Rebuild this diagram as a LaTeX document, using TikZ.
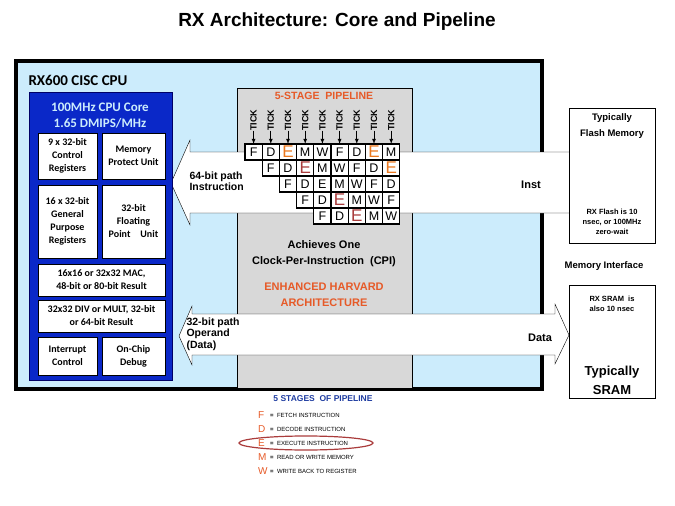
\documentclass[tikz,border=0pt]{standalone}
\usepackage{fontspec}
\setmainfont{Liberation Sans}
\newfontfamily\carl{Carlito}
\definecolor{cpublue}{RGB}{204,236,252}
\definecolor{coreblue}{RGB}{10,40,200}
\definecolor{pipegray}{RGB}{216,216,216}
\definecolor{hot}{RGB}{230,90,40}
\definecolor{ored}{RGB}{235,120,30}
\definecolor{legblue}{RGB}{30,60,160}
\definecolor{ellred}{RGB}{170,60,60}
\tikzset{
  unit/.style={draw=black,fill=white,inner sep=1pt,font=\carl\bfseries\fontsize{10}{13}\selectfont,align=center},
  cell/.style={draw=black,line width=1.2pt,fill=white,minimum width=17.2pt,minimum height=16pt,inner sep=0pt,font=\fontsize{12.5}{12}\selectfont},
  bigE/.style={font=\fontsize{17}{16}\selectfont},
  tick/.style={rotate=90,font=\bfseries\fontsize{9}{9}\selectfont,inner sep=0pt},
  lbl/.style={font=\bfseries\fontsize{10.5}{11}\selectfont,align=center},
  leg/.style={font=\fontsize{6}{7}\selectfont,anchor=west,inner sep=0pt}
}
\begin{document}
\begin{tikzpicture}[x=1pt,y=-1pt]
  \useasboundingbox (0,0) rectangle (675,506);
  \node[font=\bfseries\fontsize{19}{20}\selectfont] (title) at (337,22) {RX Architecture: Core and Pipeline};
  %cpu
  \draw[line width=3.5pt,fill=cpublue] (16,61) rectangle (542,389);
  \node[anchor=west,font=\carl\bfseries\fontsize{15}{16}\selectfont] (cpu) at (25,80) {RX600 CISC CPU};
  %pipeline box
  \draw[fill=pipegray,line width=1pt] (237,88) rectangle (412,388);
  %inst arrow
  \draw[fill=white] (569,152) -- (190,152) -- (190,140) -- (171,183) -- (190,225) -- (190,213) -- (569,213);
  %data arrow
  \draw[fill=white] (192,314) -- (555,314) -- (555,304) -- (569,335) -- (555,364) -- (555,355) -- (192,355) -- (192,365) -- (179,336) -- (192,306) -- cycle;
  %core
  \draw[fill=coreblue,draw=blue!40!black,line width=1pt] (29,92) rectangle (172,380);
  \node[text=cpublue,font=\carl\bfseries\fontsize{13}{16}\selectfont,align=center] (core) at (100,116) {100MHz CPU Core\\1.65 DMIPS/MHz};
  \node[unit,minimum width=59pt,minimum height=46pt] (ctrl) at (67.5,156) {9 x 32-bit\\Control\\Registers};
  \node[unit,minimum width=63pt,minimum height=46pt] (mpu) at (133.5,156) {Memory\\Protect Unit};
  \node[unit,minimum width=59pt,minimum height=73pt] (gpr) at (67.5,221.5) {16 x 32-bit\\General\\Purpose\\Registers};
  \node[unit,minimum width=63pt,minimum height=73pt] (fpu) at (133.5,221.5) {32-bit\\Floating\\Point\quad Unit};
  \node[unit,minimum width=127pt,minimum height=32pt] (mac) at (101.5,280) {16x16 or 32x32 MAC,\\48-bit or 80-bit Result};
  \node[unit,minimum width=127pt,minimum height=32pt] (div) at (101.5,316) {32x32 DIV or MULT, 32-bit\\or 64-bit Result};
  \node[unit,minimum width=59pt,minimum height=38pt] (irq) at (67.5,356) {Interrupt\\Control};
  \node[unit,minimum width=63pt,minimum height=38pt] (dbg) at (133.5,356) {On-Chip\\Debug};
  %pipeline
  \node[text=hot,font=\bfseries\fontsize{10.5}{11}\selectfont] (pipe) at (324,96) {5-STAGE\ \ PIPELINE};
  \foreach \c in {0,...,8}{
    \node[tick] (t\c) at (253.6+17.2*\c,120) {TICK};
    \draw[-latex,thick] (t\c.west) -- (253.6+17.2*\c,144);
  }
  \foreach \c/\t/\k/\s in {0/F/black/cell,1/D/black/cell,2/E/ored/bigE,3/M/black/cell,4/W/black/cell,5/F/black/cell,6/D/black/cell,7/E/ored/bigE,8/M/black/cell}
    \node[cell,\s,text=\k] (r1\c) at (253.6+17.2*\c,152) {\t};
  \foreach \c/\t/\k/\s in {1/F/black/cell,2/D/black/cell,3/E/ellred/bigE,4/M/black/cell,5/W/black/cell,6/F/black/cell,7/D/black/cell,8/E/ored/bigE}
    \node[cell,\s,text=\k] (r2\c) at (253.6+17.2*\c,168) {\t};
  \foreach \c/\t in {2/F,3/D,4/E,5/M,6/W,7/F,8/D}
    \node[cell] (r3\c) at (253.6+17.2*\c,184) {\t};
  \foreach \c/\t/\k/\s in {3/F/black/cell,4/D/black/cell,5/E/ellred/bigE,6/M/black/cell,7/W/black/cell,8/F/black/cell}
    \node[cell,\s,text=\k] (r4\c) at (253.6+17.2*\c,200) {\t};
  \foreach \c/\t/\k/\s in {4/F/black/cell,5/D/black/cell,6/E/ellred/bigE,7/M/black/cell,8/W/black/cell}
    \node[cell,\s,text=\k] (r5\c) at (253.6+17.2*\c,216) {\t};
  \node[font=\bfseries\fontsize{11}{16}\selectfont,align=center] (cpi) at (324,254) {Achieves One\\Clock-Per-Instruction\ \ (CPI)};
  \node[text=hot,font=\bfseries\fontsize{11}{16}\selectfont,align=center] (harv) at (324,295) {ENHANCED HARVARD\\ARCHITECTURE};
  %arrow texts
  \node[lbl,anchor=west,align=left] (ipath) at (186,181) {64-bit path\\Instruction};
  \node[lbl,font=\bfseries\fontsize{11}{11}\selectfont] (inst) at (531,185) {Inst};
  \node[lbl,anchor=west,align=left,font=\bfseries\fontsize{10.5}{11.5}\selectfont] (dpath) at (183,334) {32-bit path\\Operand\\(Data)};
  \node[lbl,font=\bfseries\fontsize{11}{11}\selectfont] (data) at (540,338) {Data};
  %memories
  \draw[fill=white,line width=0.8pt] (569,108) rectangle (655,243);
  \node[lbl,font=\bfseries\fontsize{9.5}{16}\selectfont] (flash) at (612,126) {Typically\\Flash Memory};
  \node[lbl,font=\bfseries\fontsize{7.5}{10}\selectfont] (fnote) at (612,222) {RX Flash is 10\\nsec, or 100MHz\\zero-wait};
  \node[lbl,font=\bfseries\fontsize{9.5}{10}\selectfont] (mif) at (604,266) {Memory Interface};
  \draw[fill=white,line width=0.8pt] (569,285) rectangle (655,398);
  \node[lbl,font=\bfseries\fontsize{7.5}{10}\selectfont] (snote) at (612,304) {RX SRAM\ \ is\\also 10 nsec};
  \node[lbl,font=\bfseries\fontsize{13}{19}\selectfont] (sram) at (612,380) {Typically\\SRAM};
  %legend
  \node[text=legblue,font=\bfseries\fontsize{8.5}{9}\selectfont] (legt) at (323,399) {5 STAGES\ \ OF PIPELINE};
  \foreach \t/\s/\y in {F/FETCH INSTRUCTION/415,D/DECODE INSTRUCTION/429,E/EXECUTE INSTRUCTION/443,M/READ OR WRITE MEMORY/457,W/WRITE BACK TO REGISTER/471}{
    \node[text=hot,anchor=west,inner sep=0pt,font=\fontsize{10}{10}\selectfont] (l\t) at (258,\y) {\t};
    \node[leg] (d\t) at (270,\y) {\textbf{=}\ \ \s};
  }
  \draw[ellred,line width=1.2pt] (306,443) ellipse (67 and 7);
\end{tikzpicture}
\end{document}
